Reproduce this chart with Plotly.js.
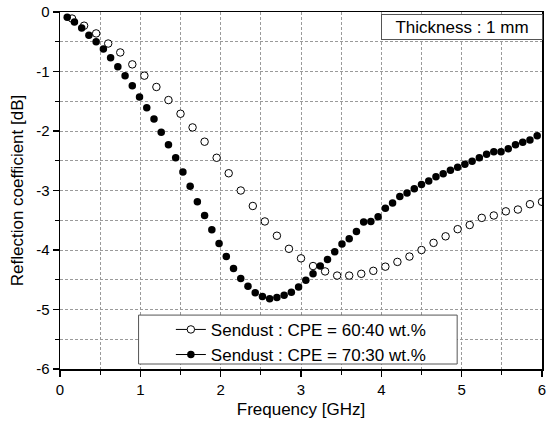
<!DOCTYPE html>
<html>
<head>
<meta charset="utf-8">
<script src="https://cdn.plot.ly/plotly-3.0.1.min.js"></script>
<style>html,body{margin:0;padding:0;background:#fff;}</style>
</head>
<body>
<div id="chart" style="width:548px;height:421px;"></div>
<script>
// Sendust : CPE = 60:40 wt.% (open circles)
const freqA = [0.15,0.30,0.45,0.60,0.75,0.90,1.05,1.20,1.35,1.50,1.65,1.80,1.95,2.10,2.25,2.40,2.55,2.70,2.85,3.00,
  3.15,3.30,3.45,3.60,3.75,3.90,4.05,4.20,4.35,4.50,4.65,4.80,4.95,5.10,5.25,5.40,5.55,5.70,5.85,6.00];
const rcA = [-0.11,-0.23,-0.36,-0.53,-0.68,-0.88,-1.07,-1.26,-1.48,-1.71,-1.94,-2.18,-2.45,-2.71,-3.00,-3.26,-3.52,-3.76,-3.98,-4.14,
  -4.27,-4.36,-4.43,-4.43,-4.40,-4.35,-4.28,-4.20,-4.11,-4.00,-3.88,-3.77,-3.65,-3.58,-3.46,-3.42,-3.35,-3.32,-3.23,-3.19];

// Sendust : CPE = 70:30 wt.% (filled circles)
const freqB = [0.09,0.18,0.27,0.36,0.45,0.54,0.63,0.72,0.81,0.90,0.99,1.08,1.17,1.26,1.35,1.44,1.53,1.62,1.71,1.80,
  1.89,1.98,2.07,2.16,2.25,2.34,2.43,2.52,2.61,2.70,2.79,2.88,2.97,3.06,3.15,3.24,3.33,3.42,3.51,3.60,
  3.69,3.78,3.87,3.96,4.05,4.14,4.23,4.32,4.41,4.50,4.59,4.68,4.77,4.86,4.95,5.04,5.13,5.22,5.31,5.40,
  5.49,5.58,5.67,5.76,5.85,5.94];
const rcB = [-0.09,-0.17,-0.27,-0.39,-0.50,-0.62,-0.77,-0.92,-1.07,-1.24,-1.43,-1.61,-1.80,-2.02,-2.23,-2.45,-2.69,-2.93,-3.19,-3.42,
  -3.66,-3.89,-4.11,-4.31,-4.48,-4.61,-4.72,-4.78,-4.82,-4.80,-4.76,-4.71,-4.62,-4.51,-4.40,-4.27,-4.16,-4.03,-3.90,-3.81,
  -3.69,-3.53,-3.52,-3.44,-3.30,-3.21,-3.10,-3.04,-2.97,-2.90,-2.84,-2.77,-2.72,-2.66,-2.61,-2.56,-2.51,-2.45,-2.39,-2.35,
  -2.35,-2.30,-2.23,-2.19,-2.15,-2.08];

const nameA = 'Sendust : CPE = 60:40 wt.%';
const nameB = 'Sendust : CPE = 70:30 wt.%';
const xTicks = [0,1,2,3,4,5,6];
const yTicks = [0,-1,-2,-3,-4,-5,-6];
const noteText = 'Thickness : 1 mm';

const FONT = 'Arial, "Liberation Sans", sans-serif';
const markA = {symbol:'circle', size:7.5, color:'#ffffff', line:{color:'#000', width:1}};
const markB = {symbol:'circle', size:7.5, color:'#000000', line:{color:'#000', width:0}};

const traces = [
  {x:freqA, y:rcA, type:'scatter', mode:'markers', marker:markA, showlegend:false, name:nameA},
  {x:freqB, y:rcB, type:'scatter', mode:'markers', marker:markB, showlegend:false, name:nameB},
  // legend entries (line + marker symbol)
  {x:[null], y:[null], type:'scatter', mode:'lines+markers', marker:markA, line:{color:'#000', width:1}, name:nameA},
  {x:[null], y:[null], type:'scatter', mode:'lines+markers', marker:markB, line:{color:'#000', width:1}, name:nameB}
];

const gridCol = '#9a9a9a';
const axisCommon = {
  showline:true, linecolor:'#000', linewidth:1.5, mirror:true,
  ticks:'outside', ticklen:6, tickwidth:1.2, tickcolor:'#000',
  showgrid:true, gridcolor:gridCol, gridwidth:1, griddash:'3px,2px',
  zeroline:false, tickfont:{family:FONT, size:15, color:'#000'}, ticklabeloverflow:'allow',
  minor:{ticks:'outside', ticklen:4, tickwidth:1.2, tickcolor:'#000', showgrid:true, gridcolor:gridCol, gridwidth:1, griddash:'3px,2px'}
};

const layout = {
  width:548, height:421,
  margin:{l:60, r:6, t:12, b:52},
  paper_bgcolor:'#fff', plot_bgcolor:'#fff',
  font:{family:FONT, color:'#000'},
  xaxis:Object.assign({}, axisCommon, {
    range:[0,6], tickvals:xTicks, ticktext:xTicks.map(String),
    minor:Object.assign({}, axisCommon.minor, {dtick:0.5}),
    title:{text:'Frequency [GHz]', font:{family:FONT, size:17, color:'#000'}, standoff:6}
  }),
  yaxis:Object.assign({}, axisCommon, {
    range:[-6,0], tickvals:yTicks, ticktext:yTicks.map(String),
    minor:Object.assign({}, axisCommon.minor, {dtick:0.5}),
    title:{text:'Reflection coefficient [dB]', font:{family:FONT, size:17, color:'#000'}, standoff:8}
  }),
  showlegend:true,
  legend:{x:0.230, y:0.160, xanchor:'left', yanchor:'top', bgcolor:'rgba(0,0,0,0)', borderwidth:0,
          font:{family:FONT, size:17, color:'#000'}, tracegroupgap:0, itemclick:false},
  shapes:[
    {type:'rect', xref:'paper', yref:'paper', x0:0.163, x1:0.824, y0:0.014, y1:0.151,
     line:{color:'#555', width:1}, fillcolor:'#fff', layer:'above'}
  ],
  annotations:[
    {text:noteText, xref:'paper', yref:'paper', x:0.833, y:0.9586, xanchor:'center', yanchor:'middle',
     showarrow:false, font:{family:FONT, size:17, color:'#000'}, bordercolor:'#555', borderwidth:1,
     bgcolor:'#fff', borderpad:2, width:156, height:20}
  ]
};

Plotly.newPlot('chart', traces, layout, {staticPlot:true, displayModeBar:false});
</script>
</body>
</html>
